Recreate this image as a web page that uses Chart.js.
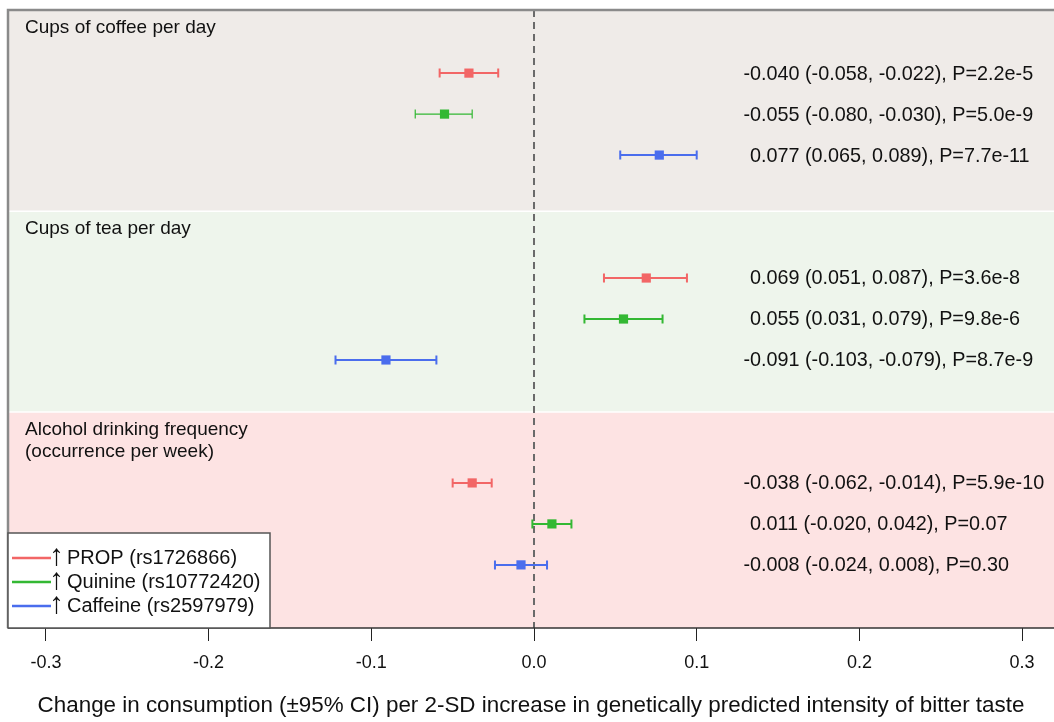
<!DOCTYPE html>
<html>
<head>
<meta charset="utf-8">
<script src="https://cdn.jsdelivr.net/npm/chart.js@4"></script>
<style>
body { margin: 0; background: #fff; }
#wrap { width: 1054px; height: 722px; }
</style>
</head>
<body>
<div id="wrap"><canvas id="forest"></canvas></div>
<script>
// outcomes (panels), top to bottom
var categories = ['Cups of coffee per day', 'Cups of tea per day', ['Alcohol drinking frequency', '(occurrence per week)']];
var seriesNames = ['PROP (rs1726866)', 'Quinine (rs10772420)', 'Caffeine (rs2597979)'];
var seriesColors = ['#f26666', '#33b833', '#4a6ded'];

// row index of the first series inside each panel
var panelRow = [0, 5, 10];

// estimates, as plotted
var propEst = [-0.040, 0.069, -0.038];
var quinineEst = [-0.055, 0.055, 0.011];
var caffeineEst = [0.077, -0.091, -0.008];

// 95% CI ends, as drawn in the plot
var propLow = [-0.058, 0.043, -0.050];
var propHigh = [-0.022, 0.094, -0.026];
var quinineLow = [-0.073, 0.031, -0.001];
var quinineHigh = [-0.038, 0.079, 0.023];
var caffeineLow = [0.053, -0.122, -0.024];
var caffeineHigh = [0.100, -0.060, 0.008];

// printed results
var propText = ['-0.040 (-0.058, -0.022), P=2.2e-5', '0.069 (0.051, 0.087), P=3.6e-8', '-0.038 (-0.062, -0.014), P=5.9e-10'];
var quinineText = ['-0.055 (-0.080, -0.030), P=5.0e-9', '0.055 (0.031, 0.079), P=9.8e-6', '0.011 (-0.020, 0.042), P=0.07'];
var caffeineText = ['0.077 (0.065, 0.089), P=7.7e-11', '-0.091 (-0.103, -0.079), P=8.7e-9', '-0.008 (-0.024, 0.008), P=0.30'];

var xTitle = 'Change in consumption (\u00b195% CI) per 2-SD increase in genetically predicted intensity of bitter taste';

var est = [propEst, quinineEst, caffeineEst];
var lows = [propLow, quinineLow, caffeineLow];
var highs = [propHigh, quinineHigh, caffeineHigh];
var texts = [propText, quinineText, caffeineText];

var FONT = "'Liberation Sans', Arial, sans-serif";
var panelFill = ['#efebe8', '#eef5ec', '#fde3e3'];
var panelEdges = [-1.54, 3.37, 8.27, 13.54];

var datasets = seriesNames.map(function (name, s) {
  return {
    label: name,
    data: categories.map(function (c, i) {
      return { x: est[s][i], y: panelRow[i] + s };
    }),
    low: lows[s],
    high: highs[s],
    notes: texts[s],
    whiskerWidth: s === 1 ? [1.2, 2, 2] : [2, 2, 2],
    backgroundColor: seriesColors[s],
    borderColor: seriesColors[s],
    borderWidth: 0,
    pointStyle: 'rect',
    pointRadius: 6.5
  };
});

var forestPlugin = {
  id: 'forest',
  beforeDraw: function (chart) {
    var ctx = chart.ctx, a = chart.chartArea, y = chart.scales.y;
    ctx.save();
    for (var i = 0; i < 3; i++) {
      var top = y.getPixelForValue(panelEdges[i]);
      var bot = y.getPixelForValue(panelEdges[i + 1]);
      ctx.fillStyle = panelFill[i];
      ctx.fillRect(a.left, top, a.right - a.left, bot - top);
    }
    // white gaps between panels
    ctx.strokeStyle = '#ffffff';
    ctx.lineWidth = 1.5;
    [1, 2].forEach(function (k) {
      var py = y.getPixelForValue(panelEdges[k]);
      ctx.beginPath();
      ctx.moveTo(a.left, py);
      ctx.lineTo(a.right, py);
      ctx.stroke();
    });
    ctx.restore();
  },
  beforeDatasetsDraw: function (chart) {
    var ctx = chart.ctx, a = chart.chartArea, x = chart.scales.x, y = chart.scales.y;
    ctx.save();
    // reference line at zero
    var x0 = x.getPixelForValue(0);
    ctx.strokeStyle = '#6a6a6a';
    ctx.lineWidth = 2;
    ctx.setLineDash([7, 5]);
    ctx.beginPath();
    ctx.moveTo(x0, a.top);
    ctx.lineTo(x0, a.bottom);
    ctx.stroke();
    ctx.setLineDash([]);
    // CI whiskers
    chart.data.datasets.forEach(function (ds) {
      ctx.strokeStyle = ds.borderColor;
      ds.data.forEach(function (pt, i) {
        var py = y.getPixelForValue(pt.y);
        var xl = x.getPixelForValue(ds.low[i]);
        var xh = x.getPixelForValue(ds.high[i]);
        ctx.lineWidth = ds.whiskerWidth[i];
        ctx.beginPath();
        ctx.moveTo(xl, py);
        ctx.lineTo(xh, py);
        ctx.moveTo(xl, py - 4.5);
        ctx.lineTo(xl, py + 4.5);
        ctx.moveTo(xh, py - 4.5);
        ctx.lineTo(xh, py + 4.5);
        ctx.stroke();
      });
    });
    ctx.restore();
  },
  afterDatasetsDraw: function (chart) {
    var ctx = chart.ctx, a = chart.chartArea, y = chart.scales.y;
    ctx.save();
    ctx.fillStyle = '#111';
    ctx.textBaseline = 'middle';
    ctx.font = '19px ' + FONT;
    // panel titles
    categories.forEach(function (c, i) {
      var top = y.getPixelForValue(panelEdges[i]);
      var lines = Array.isArray(c) ? c : [c];
      lines.forEach(function (ln, k) {
        ctx.fillText(ln, 25, top + 18 + k * 22);
      });
    });
    // printed estimates, digits lined up
    ctx.font = '19.8px ' + FONT;
    var dash = ctx.measureText('-').width;
    chart.data.datasets.forEach(function (ds) {
      ds.data.forEach(function (pt, i) {
        var t = ds.notes[i];
        var tx = 750 - (t.charAt(0) === '-' ? dash : 0);
        ctx.fillText(t, tx, y.getPixelForValue(pt.y) + 1);
      });
    });
    // frame
    ctx.strokeStyle = '#8a8a8a';
    ctx.lineWidth = 2.5;
    ctx.beginPath();
    ctx.moveTo(a.right, a.top);
    ctx.lineTo(a.left, a.top);
    ctx.lineTo(a.left, a.bottom);
    ctx.stroke();
    ctx.strokeStyle = '#333';
    ctx.lineWidth = 1.5;
    ctx.beginPath();
    ctx.moveTo(a.left, a.bottom);
    ctx.lineTo(a.right, a.bottom);
    ctx.stroke();
    // legend box
    var bx = a.left, by = 533, bw = 262, bh = a.bottom - 533;
    ctx.fillStyle = '#fff';
    ctx.fillRect(bx, by, bw, bh);
    ctx.strokeStyle = '#555';
    ctx.lineWidth = 1.5;
    ctx.strokeRect(bx, by, bw, bh);
    chart.data.datasets.forEach(function (ds, s) {
      var ly = 558 + s * 24;
      ctx.strokeStyle = ds.borderColor;
      ctx.lineWidth = 2.5;
      ctx.beginPath();
      ctx.moveTo(12, ly);
      ctx.lineTo(51, ly);
      ctx.stroke();
      ctx.fillStyle = '#111';
      ctx.font = '30px ' + FONT;
      ctx.fillText('\u2191', 49, ly - 1);
      ctx.font = '20px ' + FONT;
      ctx.fillText(ds.label, 67, ly);
    });
    ctx.restore();
  }
};

new Chart(document.getElementById('forest'), {
  type: 'scatter',
  data: { datasets: datasets },
  options: {
    responsive: true,
    maintainAspectRatio: false,
    animation: false,
    layout: { autoPadding: false, padding: { left: 8, top: 10, right: 0, bottom: 0 } },
    plugins: { legend: { display: false }, tooltip: { enabled: false } },
    scales: {
      x: {
        type: 'linear',
        min: -0.3233,
        max: 0.3196,
        afterFit: function (scale) {
          scale.height = 94;
          scale.paddingLeft = 0;
          scale.paddingRight = 0;
        },
        grid: { drawOnChartArea: false, drawTicks: true, tickLength: 13, color: '#222', lineWidth: 1 },
        border: { display: false },
        ticks: {
          stepSize: 0.1,
          includeBounds: false,
          padding: 11,
          color: '#111',
          font: { family: FONT, size: 18 },
          callback: function (v) { return Math.abs(v) < 1e-9 ? '0.0' : v.toFixed(1); }
        },
        title: {
          display: true,
          text: xTitle,
          color: '#111',
          font: { family: FONT, size: 22.4 },
          padding: { top: 0, bottom: 3 }
        }
      },
      y: { type: 'linear', display: false, reverse: true, min: -1.54, max: 13.54 }
    }
  },
  plugins: [forestPlugin]
});
</script>
</body>
</html>
